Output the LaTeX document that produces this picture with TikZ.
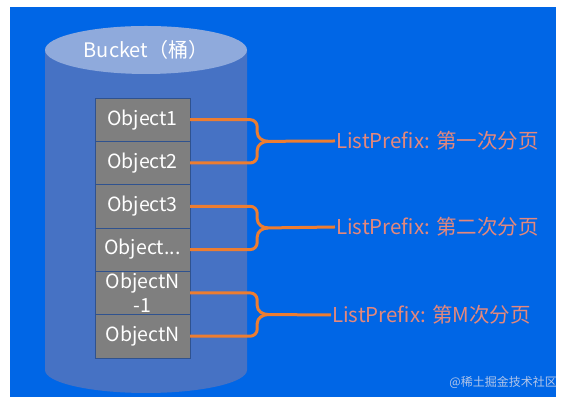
\documentclass[tikz,border=0pt]{standalone}
\usepackage{fontspec}
\setmainfont{Noto Sans CJK SC}
\usepackage{xcolor}
\usetikzlibrary{calc,positioning}

\definecolor{bgblue}{RGB}{0,102,230}
\definecolor{bodyblue}{RGB}{70,114,196}
\definecolor{lidblue}{RGB}{143,170,220}
\definecolor{boxgray}{RGB}{127,127,127}
\definecolor{boxline}{RGB}{47,82,143}
\definecolor{braceorange}{RGB}{237,125,49}
\definecolor{labsalmon}{RGB}{228,136,124}
\definecolor{markgray}{RGB}{180,198,232}

\begin{document}
\begin{tikzpicture}[x=1pt,y=1pt,
  objbox/.style={draw=boxline,fill=boxgray,minimum width=95pt,minimum height=43.3pt,
    inner sep=0pt,text=white,align=center,font=\fontsize{19.5}{24}\selectfont},
  pagelab/.style={anchor=west,inner sep=1pt,text=labsalmon,font=\fontsize{20.5}{24}\selectfont},
  brace/.style={draw=braceorange,line width=3pt,line join=round}]
  \useasboundingbox (0,0) rectangle (571,403);
  \fill[white] (0,0) rectangle (571,403);
  \fill[bgblue] (10,6) rectangle (556,396);

  % bucket
  \fill[bodyblue] (45,353) -- (45,33)
    arc[start angle=180,end angle=360,x radius=101,y radius=23] -- (247,353) -- cycle;
  \fill[lidblue] (146,353) ellipse[x radius=101,y radius=24];
  \node[text=white,font=\fontsize{20}{24}\selectfont] (bucket) at (146,353) {Bucket（桶）};

  % objects
  \foreach \t [count=\i] in {Object1,Object2,Object3,Object{...},{ObjectN\\-1},ObjectN}
    \node[objbox] (obj\i) at (142.5,{326.6-43.3*\i}) {\t};

  \node[pagelab] (lab1) at (335,262) {ListPrefix: 第一次分页};
  \node[pagelab] (lab2) at (335,176) {ListPrefix: 第二次分页};
  \node[pagelab] (lab3) at (331,88) {ListPrefix: 第M次分页};

  \foreach \a/\b/\l in {obj1/obj2/lab1,obj3/obj4/lab2,obj5/obj6/lab3}{
    \coordinate (m) at ($(\a.east)!0.5!(\b.east)$);
    \draw[brace] (\a.east) -- ++(60,0) arc[start angle=90,end angle=0,radius=7]
      -- ($(m)+(67,9)$) to[out=-90,in=180] ($(m)+(78,0)$) -- (\l.west);
    \draw[brace] (\b.east) -- ++(60,0) arc[start angle=-90,end angle=0,radius=7]
      -- ($(m)+(67,-9)$) to[out=90,in=180] ($(m)+(78,0)$);
  }

  \node[anchor=east,inner sep=0pt,text=markgray,font=\fontsize{12}{14}\selectfont]
    (watermark) at (557,21) {@稀土掘金技术社区};
\end{tikzpicture}
\end{document}
